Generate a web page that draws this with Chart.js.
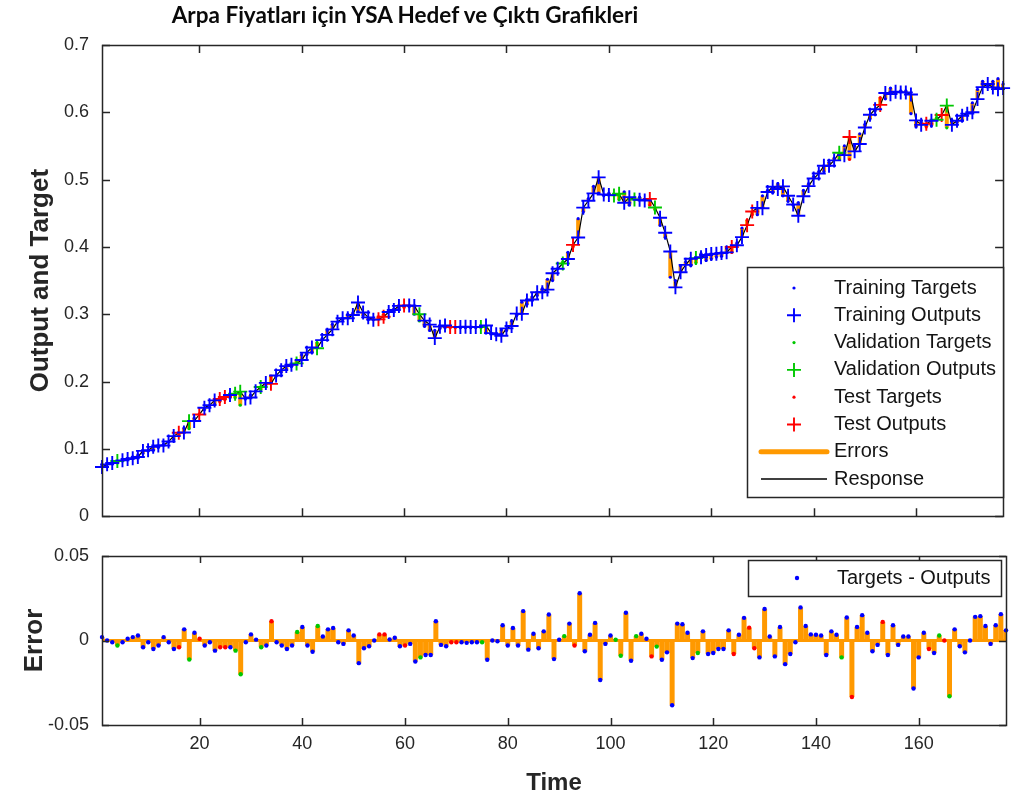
<!DOCTYPE html>
<html>
<head>
<meta charset="utf-8">
<script src="https://cdn.jsdelivr.net/npm/chart.js@4.4.1/dist/chart.umd.min.js"></script>
<style>
  html, body { margin: 0; padding: 0; background: #fff; }
  #wrap { position: relative; width: 1012px; height: 803px; overflow: hidden; }
  #top { position: absolute; left: 0; top: 0; }
  #bottom { position: absolute; left: 0; top: 530px; }
  #title { position: absolute; left: 0; top: 1px; width: 810px; text-align: center;
           font: bold 22.5px Lato, "Open Sans", sans-serif; color: #0a0a0a; white-space: nowrap; }
</style>
</head>
<body>
<div id="wrap">
  <canvas id="top" width="1012" height="540"></canvas>
  <canvas id="bottom" width="1012" height="273"></canvas>
  <div id="title">Arpa Fiyatları için YSA Hedef ve Çıktı Grafikleri</div>
</div>
<script>
// Normalised barley price targets, one value per time step (1..177)
const targets = [
  0.075, 0.077, 0.078, 0.079, 0.082, 0.086, 0.088, 0.091, 0.093, 0.097,
  0.098, 0.102, 0.107, 0.110, 0.114, 0.120, 0.131, 0.130, 0.146, 0.152,
  0.158, 0.164, 0.166, 0.170, 0.173, 0.176, 0.176, 0.165, 0.174, 0.180,
  0.186, 0.188, 0.195, 0.208, 0.208, 0.214, 0.218, 0.222, 0.232, 0.240,
  0.240, 0.244, 0.258, 0.264, 0.276, 0.285, 0.288, 0.292, 0.300, 0.302,
  0.304, 0.298, 0.292, 0.292, 0.296, 0.300, 0.304, 0.308, 0.309, 0.310,
  0.311, 0.300, 0.290, 0.282, 0.276, 0.276, 0.279, 0.280, 0.280, 0.280,
  0.280, 0.280, 0.280, 0.280, 0.280, 0.272, 0.272, 0.270, 0.277, 0.276,
  0.290, 0.298, 0.318, 0.315, 0.326, 0.328, 0.338, 0.352, 0.350, 0.368,
  0.378, 0.392, 0.400, 0.442, 0.452, 0.472, 0.490, 0.480, 0.476, 0.480,
  0.477, 0.470, 0.482, 0.462, 0.473, 0.474, 0.470, 0.462, 0.455, 0.432,
  0.414, 0.355, 0.350, 0.372, 0.378, 0.372, 0.376, 0.390, 0.380, 0.382,
  0.385, 0.386, 0.398, 0.392, 0.406, 0.428, 0.440, 0.448, 0.448, 0.476,
  0.484, 0.480, 0.494, 0.476, 0.468, 0.462, 0.466, 0.484, 0.494, 0.505,
  0.512, 0.512, 0.526, 0.532, 0.530, 0.550, 0.530, 0.550, 0.568, 0.582,
  0.590, 0.602, 0.622, 0.620, 0.636, 0.628, 0.632, 0.632, 0.598, 0.578,
  0.586, 0.578, 0.580, 0.592, 0.596, 0.577, 0.588, 0.584, 0.588, 0.598,
  0.614, 0.634, 0.646, 0.640, 0.646, 0.650, 0.642
];

// Network error (target - output) per time step
const errors = [
  0.002, 0, -0.001, -0.003, -0.001, 0.001, 0.002, 0.003, -0.004, -0.001,
  -0.005, -0.003, 0.002, -0.001, -0.005, -0.004, 0.0066, -0.0112, 0.0046, 0.001,
  -0.003, -0.001, -0.006, -0.004, -0.004, -0.004, -0.006, -0.020, -0.001, 0.0036,
  0.0005, -0.004, -0.003, 0.0114, -0.001, -0.003, -0.005, -0.003, 0.005, 0.008,
  -0.003, -0.0067, 0.0086, 0.0024, 0.0066, 0.0074, -0.001, -0.002, 0.006, 0.003,
  -0.0134, -0.0046, -0.0034, 0, 0.0036, 0.0036, 0.0006, 0.0016, -0.0034, -0.003,
  -0.002, -0.0124, -0.010, -0.0086, -0.0086, 0.0114, -0.0026, -0.0034, -0.001, -0.001,
  -0.001, -0.0014, -0.001, -0.001, -0.001, -0.0114, 0, -0.0004, 0.009, -0.003,
  0.0074, -0.003, 0.0174, -0.0054, 0.004, -0.0046, 0.0054, 0.0154, -0.011, 0.0004,
  0.0026, 0.010, -0.003, 0.028, -0.0064, 0.0034, 0.0104, -0.0234, -0.002, 0.003,
  0.0004, -0.009, 0.0164, -0.012, 0.0026, 0.004, 0.001, -0.0094, -0.0036, -0.0114,
  -0.007, -0.0383, 0.010, 0.0096, 0.0046, -0.0104, -0.0074, 0.0054, -0.008, -0.0074,
  -0.005, -0.005, 0.006, -0.008, 0.0034, 0.0134, 0.0076, -0.0046, -0.010, 0.0186,
  0.0024, -0.0094, 0.008, -0.014, -0.008, -0.001, 0.0196, 0.0086, 0.0036, 0.0034,
  0.003, -0.0086, 0.0054, 0.0034, -0.010, 0.0136, -0.0334, 0.008, 0.015, 0.0046,
  -0.0064, -0.0026, 0.011, -0.0086, 0.009, -0.0026, 0.0024, 0.0024, -0.0284, -0.010,
  0.0046, -0.005, -0.0074, 0.003, 0, -0.033, 0.0066, -0.0034, -0.007, 0,
  0.014, 0.0144, 0.0086, -0.002, 0.009, 0.0156, 0.006
];

// Time steps held out for validation and for testing; the rest are training
const validationSteps = [4, 18, 27, 28, 32, 39, 43, 63, 75, 91, 101, 102, 105, 109, 117, 145, 164, 166];
const testSteps = [16, 20, 24, 25, 34, 55, 56, 60, 69, 70, 93, 108, 124, 127, 128, 147, 153, 162, 165];

// Axis ticks
const timeTicks = [20, 40, 60, 80, 100, 120, 140, 160];
const responseTicks = [0, 0.1, 0.2, 0.3, 0.4, 0.5, 0.6, 0.7];
const errorTicks = [-0.05, 0, 0.05];

// Legend entries
const responseLegend = ['Training Targets', 'Training Outputs', 'Validation Targets', 'Validation Outputs',
                        'Test Targets', 'Test Outputs', 'Errors', 'Response'];
const errorLegend = ['Targets - Outputs'];

const BLUE = '#0000ff', GREEN = '#00c800', RED = '#ff0000', ORANGE = '#ff9900', INK = '#262626';
const FONT = "'Liberation Sans', Arial, Helvetica, sans-serif";

const steps = targets.map((_, k) => k + 1);
const outputs = targets.map((t, k) => Math.round((t - errors[k]) * 1e5) / 1e5);
const groupOf = s => testSteps.includes(s) ? 'test' : validationSteps.includes(s) ? 'validation' : 'training';
const pick = (values, group) => steps.filter(s => groupOf(s) === group).map(s => ({ x: s, y: values[s - 1] }));
const fmt = v => String(Math.round(v * 100) / 100);
const fixTicks = list => scale => { scale.ticks = list.map(v => ({ value: v })); };

Chart.defaults.font.family = FONT;
Chart.defaults.color = INK;

// Box around the plot area with inward tick marks on all four sides
const frame = {
  id: 'frame',
  afterDatasetsDraw(chart, _args, opts) {
    const { ctx, chartArea: a } = chart;
    const { x, y } = chart.scales;
    const L = opts.tickLength;
    ctx.save();
    ctx.strokeStyle = INK;
    ctx.lineWidth = 1.5;
    ctx.beginPath();
    x.ticks.forEach(t => {
      const p = Math.round(x.getPixelForValue(t.value)) + 0.5;
      ctx.moveTo(p, a.bottom); ctx.lineTo(p, a.bottom - L);
      ctx.moveTo(p, a.top); ctx.lineTo(p, a.top + L);
    });
    y.ticks.forEach(t => {
      const p = Math.round(y.getPixelForValue(t.value)) + 0.5;
      ctx.moveTo(a.left, p); ctx.lineTo(a.left + L, p);
      ctx.moveTo(a.right, p); ctx.lineTo(a.right - L, p);
    });
    ctx.stroke();
    ctx.strokeRect(Math.round(a.left) + 0.5, Math.round(a.top) + 0.5,
                   Math.round(a.right - a.left), Math.round(a.bottom - a.top));
    ctx.restore();
  }
};

// Boxed legend; each row takes its sample style from the dataset with the same label
const boxLegend = {
  id: 'boxLegend',
  afterDraw(chart, _args, o) {
    const { ctx } = chart;
    ctx.save();
    ctx.fillStyle = '#fff';
    ctx.fillRect(o.x, o.y, o.w, o.h);
    ctx.strokeStyle = INK;
    ctx.lineWidth = 1.5;
    ctx.strokeRect(o.x + 0.5, o.y + 0.5, o.w, o.h);
    ctx.font = o.fontSize + 'px ' + FONT;
    ctx.textBaseline = 'middle';
    ctx.textAlign = 'left';
    o.items.forEach((label, k) => {
      const ds = chart.data.datasets.find(d => d.label === label);
      const cy = o.y + o.firstRow + k * o.rowGap;
      const cx = o.markerX;
      if (ds.showLine) {
        ctx.strokeStyle = ds.borderColor;
        ctx.lineWidth = ds.legendWidth || ds.borderWidth;
        ctx.lineCap = ds.legendCap || 'butt';
        ctx.beginPath();
        ctx.moveTo(o.lineFrom, cy); ctx.lineTo(o.lineTo, cy);
        ctx.stroke();
      } else if (ds.pointStyle === 'cross') {
        const r = ds.pointRadius;
        ctx.strokeStyle = ds.borderColor;
        ctx.lineWidth = ds.borderWidth;
        ctx.lineCap = 'butt';
        ctx.beginPath();
        ctx.moveTo(cx - r, cy); ctx.lineTo(cx + r, cy);
        ctx.moveTo(cx, cy - r); ctx.lineTo(cx, cy + r);
        ctx.stroke();
      } else {
        ctx.fillStyle = ds.backgroundColor;
        ctx.beginPath();
        ctx.arc(cx, cy, ds.pointRadius, 0, Math.PI * 2);
        ctx.fill();
      }
      ctx.fillStyle = '#141414';
      ctx.fillText(label, o.textX, cy);
    });
    ctx.restore();
  }
};

const outputSet = (label, group, color) => ({
  label, data: pick(outputs, group), pointStyle: 'cross', pointRadius: 7,
  borderColor: color, borderWidth: 1.9, showLine: false, clip: false, order: 1
});
const targetSet = (label, values, group, color, radius, order) => ({
  label, data: pick(values, group), pointStyle: 'circle', pointRadius: radius,
  backgroundColor: color, borderColor: color, borderWidth: 0, showLine: false, clip: false, order
});

const baseOptions = () => ({
  responsive: false,
  devicePixelRatio: 1,
  animation: false,
  events: [],
  plugins: { legend: { display: false }, tooltip: { enabled: false } }
});

const hiddenGrid = { display: false, drawTicks: false, tickLength: 0 };

// Upper panel: targets, outputs, errors and the response curve
const topOptions = baseOptions();
topOptions.layout = { padding: { top: 45, right: 6, left: 0, bottom: 0 } };
topOptions.scales = {
  x: {
    type: 'linear', min: 1, max: 177,
    grid: hiddenGrid, border: { display: false },
    ticks: { display: false },
    afterBuildTicks: fixTicks(timeTicks),
    afterFit: s => { s.height = 18; }
  },
  y: {
    type: 'linear', min: 0, max: 0.7,
    grid: hiddenGrid, border: { display: false },
    ticks: { font: { size: 18 }, color: INK, padding: 13, callback: v => fmt(v) },
    afterBuildTicks: fixTicks(responseTicks),
    afterFit: s => { s.width = 102; },
    title: { display: true, text: 'Output and Target', color: INK,
             font: { size: 26, weight: 'bold' }, padding: { top: 24.9, bottom: 0 } }
  }
};
topOptions.plugins.frame = { tickLength: 8 };
topOptions.plugins.boxLegend = {
  items: responseLegend, x: 747, y: 267, w: 256, h: 230, firstRow: 21, rowGap: 27.3,
  markerX: 794, textX: 834, lineFrom: 761, lineTo: 827, fontSize: 20
};

new Chart(document.getElementById('top'), {
  type: 'scatter',
  data: {
    datasets: [
      outputSet('Training Outputs', 'training', BLUE),
      outputSet('Validation Outputs', 'validation', GREEN),
      outputSet('Test Outputs', 'test', RED),
      targetSet('Training Targets', targets, 'training', BLUE, 1.6, 2),
      targetSet('Validation Targets', targets, 'validation', GREEN, 1.6, 2),
      targetSet('Test Targets', targets, 'test', RED, 1.6, 2),
      {
        label: 'Response', data: steps.map(s => ({ x: s, y: outputs[s - 1] })),
        showLine: true, borderColor: '#000', borderWidth: 1.2, legendWidth: 1.5,
        pointRadius: 0, order: 3
      },
      {
        label: 'Errors',
        data: steps.flatMap(s => [{ x: s, y: targets[s - 1] }, { x: s, y: outputs[s - 1] }, { x: s, y: null }]),
        showLine: true, spanGaps: false, borderColor: ORANGE, borderWidth: 4, legendWidth: 5, legendCap: 'round',
        borderCapStyle: 'butt', pointRadius: 0, order: 4
      }
    ]
  },
  options: topOptions,
  plugins: [frame, boxLegend]
});

// Lower panel: error per time step
const botOptions = baseOptions();
botOptions.layout = { padding: { top: 26, right: 6, left: 0, bottom: 0 } };
botOptions.scales = {
  x: {
    type: 'linear', min: 1, max: 177,
    grid: hiddenGrid, border: { display: false },
    ticks: { font: { size: 18 }, color: INK, padding: 8, maxRotation: 0, callback: v => fmt(v) },
    afterBuildTicks: fixTicks(timeTicks),
    afterFit: s => { s.height = 78; },
    title: { display: true, text: 'Time', color: INK,
             font: { size: 24, weight: 'bold' }, padding: { top: 0, bottom: 5.6 } }
  },
  y: {
    type: 'linear', min: -0.05, max: 0.05,
    grid: hiddenGrid, border: { display: false },
    ticks: { font: { size: 18 }, color: INK, padding: 13, callback: v => fmt(v) },
    afterBuildTicks: fixTicks(errorTicks),
    afterFit: s => { s.width = 102; },
    title: { display: true, text: 'Error', color: INK,
             font: { size: 26, weight: 'bold' }, padding: { top: 19.4, bottom: 0 } }
  }
};
botOptions.plugins.frame = { tickLength: 7 };
botOptions.plugins.boxLegend = {
  items: errorLegend, x: 748, y: 30, w: 253, h: 36, firstRow: 18, rowGap: 0,
  markerX: 797, textX: 837, lineFrom: 0, lineTo: 0, fontSize: 20
};

const errorDots = (label, group, color) => ({
  label, data: pick(errors, group), pointStyle: 'circle', pointRadius: 2.2,
  backgroundColor: color, borderColor: color, borderWidth: 0, showLine: false, clip: false, order: 1
});

new Chart(document.getElementById('bottom'), {
  type: 'scatter',
  data: {
    datasets: [
      errorDots('Targets - Outputs', 'training', BLUE),
      errorDots('Validation Errors', 'validation', GREEN),
      errorDots('Test Errors', 'test', RED),
      {
        label: 'Error Bars',
        data: steps.flatMap(s => [{ x: s, y: 0 }, { x: s, y: errors[s - 1] }, { x: s, y: null }]),
        showLine: true, spanGaps: false, borderColor: ORANGE, borderWidth: 5,
        borderCapStyle: 'butt', pointRadius: 0, order: 4
      },
      {
        label: 'Zero Error', data: steps.map(s => ({ x: s, y: 0 })),
        showLine: true, borderColor: ORANGE, borderWidth: 3, pointRadius: 0, order: 5
      }
    ]
  },
  options: botOptions,
  plugins: [frame, boxLegend]
});
</script>
</body>
</html>
